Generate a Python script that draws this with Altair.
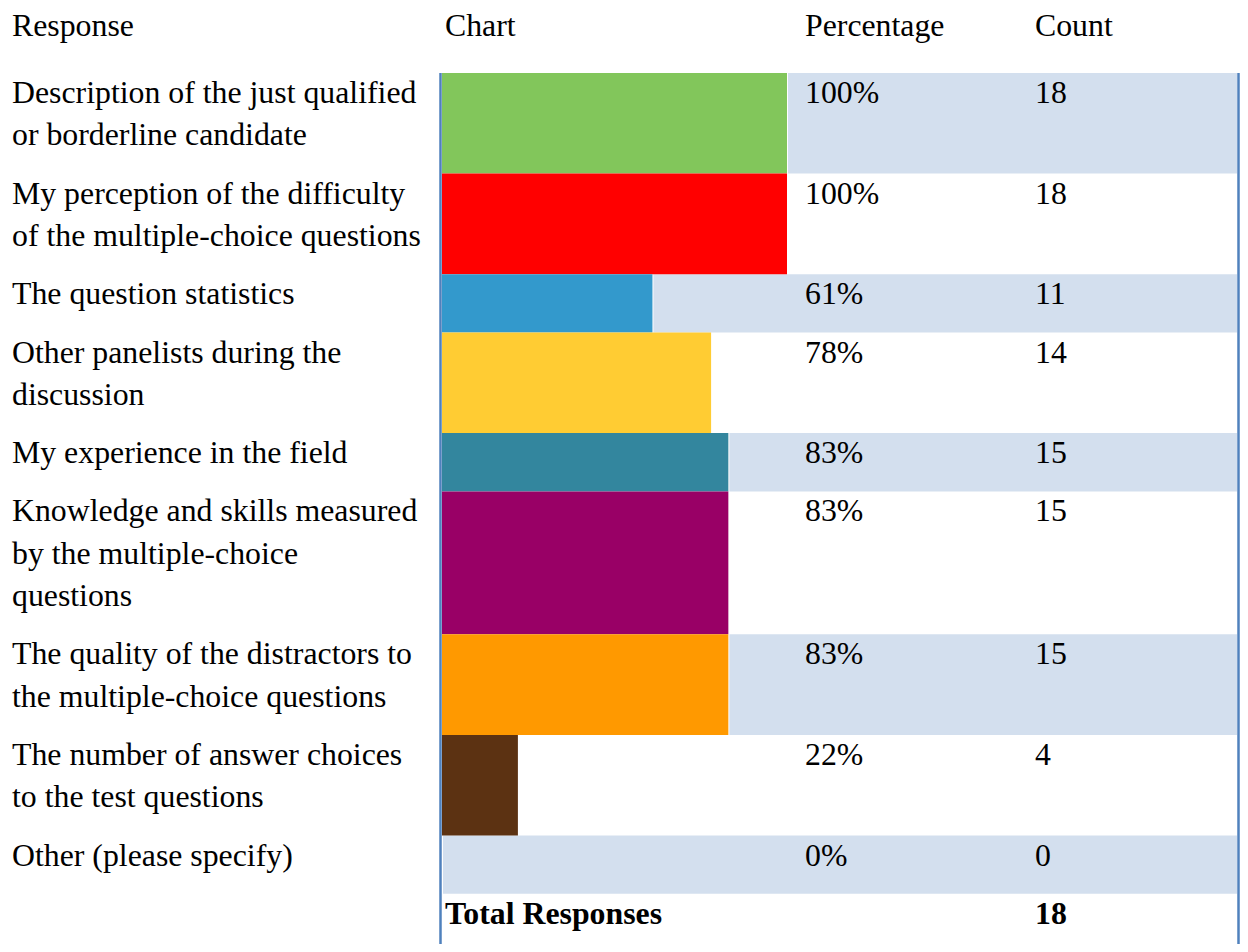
import altair as alt
import pandas as pd

# ---------------- data ----------------
responses = [
    "Description of the just qualified\nor borderline candidate",
    "My perception of the difficulty\nof the multiple-choice questions",
    "The question statistics",
    "Other panelists during the\ndiscussion",
    "My experience in the field",
    "Knowledge and skills measured\nby the multiple-choice\nquestions",
    "The quality of the distractors to\nthe multiple-choice questions",
    "The number of answer choices\nto the test questions",
    "Other (please specify)",
]
percentages = [100, 100, 61, 78, 83, 83, 83, 22, 0]
counts = [18, 18, 11, 14, 15, 15, 15, 4, 0]
total_responses = 18
bar_colors = ["#82C65B", "#FF0000", "#3399CC", "#FFCC33", "#33869E",
              "#990066", "#FF9900", "#5C3212", "#D3DFEE"]
headers = ["Response", "Chart", "Percentage", "Count"]

# ---------------- layout ----------------
W, H = 1232, 936
TABLE_TOP = 65
LINE = 42.3
PAD = 16
FONT = "Liberation Serif"
FS = 31.8
SHADE = "#D3DFEE"
BORDER = "#4F81BD"

tops, bottoms = [], []
y = TABLE_TOP
for r in responses:
    n = r.count("\n") + 1
    h = PAD + LINE * n
    tops.append(y)
    bottoms.append(y + h)
    y += h

df = pd.DataFrame({
    "response": responses,
    "pct": percentages,
    "pct_label": [f"{p}%" for p in percentages],
    "count": [str(c) for c in counts],
    "color": bar_colors,
    "top": tops,
    "bottom": bottoms,
    "base": [0] * len(responses),
    "shaded": [i % 2 == 0 for i in range(len(responses))],
})
total_df = pd.DataFrame({"label": ["Total Responses"], "count": [str(total_responses)],
                         "top": [y]})

xs = alt.Scale(domain=[0, 100], range=[434, 779], nice=False, zero=False)
ys = alt.Scale(domain=[0, H], range=[0, H], nice=False, zero=False)

base = alt.Chart(df)

shade = base.mark_rect(color=SHADE, xOffset=1).encode(
    x=alt.X("pct:Q", scale=xs, axis=None),
    x2=alt.value(1229),
    y=alt.Y("top:Q", scale=ys, axis=None),
    y2="bottom:Q",
).transform_filter("datum.shaded")

bars = base.mark_rect().encode(
    x=alt.X("base:Q", scale=xs, axis=None),
    x2="pct:Q",
    y=alt.Y("top:Q", scale=ys, axis=None),
    y2="bottom:Q",
    color=alt.Color("color:N", scale=None),
).transform_filter("datum.pct > 0")

txt = dict(font=FONT, fontSize=FS, align="left", baseline="alphabetic",
           color="#000000", lineBreak="\n", lineHeight=42.3, dy=30)

labels = base.mark_text(**txt).encode(
    x=alt.value(4), y=alt.Y("top:Q", scale=ys, axis=None), text="response:N")
pct_text = base.mark_text(**txt).encode(
    x=alt.value(797), y=alt.Y("top:Q", scale=ys, axis=None), text="pct_label:N")
cnt_text = base.mark_text(**txt).encode(
    x=alt.value(1027), y=alt.Y("top:Q", scale=ys, axis=None), text="count:N")

tbase = alt.Chart(total_df)
total_label = tbase.mark_text(**txt, fontWeight="bold").encode(
    x=alt.value(437), y=alt.Y("top:Q", scale=ys, axis=None), text="label:N")
total_count = tbase.mark_text(**txt, fontWeight="bold").encode(
    x=alt.value(1027), y=alt.Y("top:Q", scale=ys, axis=None), text="count:N")

hdr_x = [4, 437, 797, 1027]
hdr_layers = []
for h_text, hx in zip(headers, hdr_x):
    hdr_layers.append(
        alt.Chart(pd.DataFrame({"h": [h_text]})).mark_text(
            font=FONT, fontSize=FS, align="left", baseline="alphabetic", color="#000000"
        ).encode(x=alt.value(hx), y=alt.value(27.5), text="h:N")
    )

one = alt.Chart(pd.DataFrame({"a": [0]}))
left_line = one.mark_rule(color=BORDER, strokeWidth=2.5).encode(
    x=alt.value(432.5), y=alt.value(TABLE_TOP), y2=alt.value(H))
right_line = one.mark_rule(color=BORDER, strokeWidth=2.5).encode(
    x=alt.value(1230.5), y=alt.value(TABLE_TOP), y2=alt.value(H))

chart = alt.layer(
    shade, bars, left_line, right_line, labels, pct_text, cnt_text,
    total_label, total_count, *hdr_layers
).properties(
    width=W, height=H, padding=0, autosize=alt.AutoSizeParams(type="none")
).configure_view(strokeWidth=0).resolve_scale(x="shared", y="shared")

chart.save("out.html", embed_options={"renderer": "svg", "actions": False})
